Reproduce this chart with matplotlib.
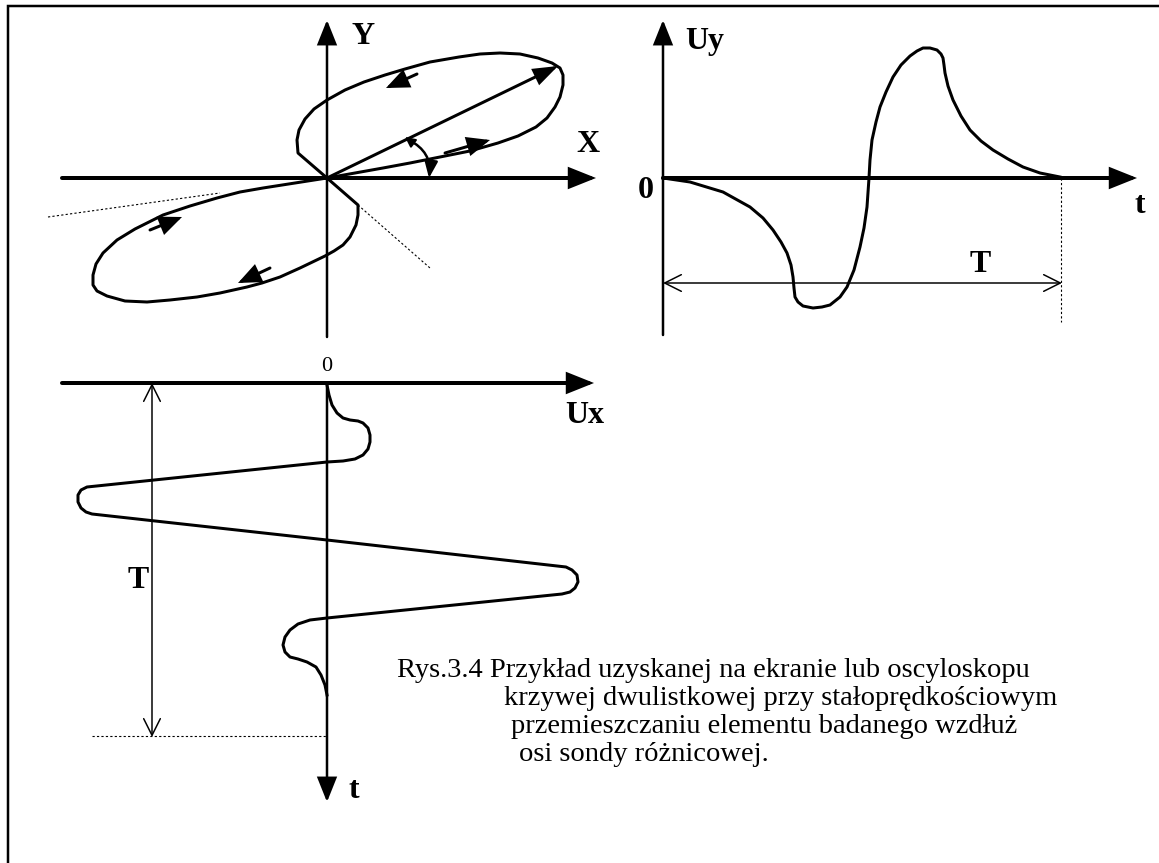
import matplotlib
matplotlib.use('Agg')
import matplotlib.pyplot as plt

# pixel coordinates (x right, y down)
origin_xy = (327, 178)

# Lissajous-like loops in the X-Y plane
loop_up_x = [327, 298, 297, 299, 305, 314, 327, 345, 364, 385, 405, 430, 459, 480, 500, 520, 538,
             552, 560, 563, 563, 560, 555, 547, 536, 518, 498, 470, 440, 410, 383, 355, 327]
loop_up_y = [178, 153, 140, 130, 119, 109, 100, 90, 82, 75, 69, 62, 57, 54, 53, 54, 58,
             63, 68, 75, 85, 97, 107, 118, 127, 136, 143, 151, 157, 163, 168, 173, 178]
loop_dn_x = [327, 358, 358, 356, 350, 343, 334, 325, 300, 280, 262, 247, 220, 197, 170, 147, 125,
             107, 97, 93, 93, 96, 103, 117, 135, 163, 190, 217, 240, 263, 295, 327]
loop_dn_y = [178, 205, 215, 225, 237, 245, 251, 256, 268, 277, 283, 287, 293, 297, 300, 302, 301,
             296, 291, 285, 275, 264, 253, 240, 229, 215, 206, 198, 192, 188, 183, 178]

# Uy(t) signal
uy_x = [663, 690, 723, 750, 763, 773, 781, 787, 791, 793, 794, 795, 798, 803, 813, 822, 830, 840,
        847, 854, 860, 864, 867, 869, 870, 872, 876, 880, 886, 893, 901, 910, 917, 923, 930, 937,
        941, 943, 944, 945, 948, 953, 961, 970, 981, 993, 1008, 1023, 1040, 1060]
uy_y = [178, 182, 192, 207, 218, 230, 242, 253, 265, 277, 288, 297, 302, 306, 308, 307, 305, 297,
        287, 270, 247, 228, 207, 178, 160, 140, 122, 107, 92, 77, 65, 56, 51, 48, 48, 50,
        54, 58, 65, 73, 86, 100, 116, 130, 141, 150, 159, 167, 173, 177]

# Ux(t) signal, time running downwards
ux_x = [327, 329, 332, 337, 343, 350, 358, 363, 368, 370, 370, 368, 363, 355, 343, 327, 87, 81,
        78, 78, 81, 86, 92, 327, 566, 572, 577, 578, 575, 570, 562, 327, 310, 298, 290, 285,
        283, 285, 290, 298, 307, 316, 321, 325, 327]
ux_y = [385, 395, 405, 413, 418, 420, 421, 423, 428, 435, 442, 449, 455, 459, 461, 462, 487, 490,
        495, 502, 508, 512, 514, 540, 567, 570, 575, 582, 588, 592, 594, 618, 620, 624, 630, 637,
        645, 652, 657, 659, 662, 667, 675, 685, 695]

# direction arrows on the loops: (tail, tip)
loop_arrows = [((417, 74), (386, 88)),
               ((445, 153), (490, 140)),
               ((150, 230), (182, 217)),
               ((270, 268), (238, 283))]

caption = ['Rys.3.4 Przykład uzyskanej na ekranie lub oscyloskopu',
           'krzywej dwulistkowej przy stałoprędkościowym',
           'przemieszczaniu elementu badanego wzdłuż',
           'osi sondy różnicowej.']
caption_x = [397, 504, 511, 519]
caption_y = [677, 705, 733, 761]

W, H = 1159, 863
fig = plt.figure(figsize=(W / 100, H / 100), dpi=100)
ax = fig.add_axes([0, 0, 1, 1])
ax.set_xlim(0, W)
ax.set_ylim(H, 0)
ax.axis('off')

def px(w):
    return w * 0.72

serif = ['Liberation Serif', 'DejaVu Serif']

def arrow(tail, tip, lw, hl, hw, style='-|>'):
    ax.annotate('', xy=tip, xytext=tail,
                arrowprops=dict(arrowstyle=f'{style},head_length={hl},head_width={hw}',
                                lw=px(lw), color='k', shrinkA=0, shrinkB=0,
                                mutation_scale=1, joinstyle='miter'))

# frame (left and top only)
ax.plot([8, 8, W], [H, 6, 6], color='k', lw=px(2.5), solid_joinstyle='miter')

# ---- X-Y plot ----
arrow((62, 178), (596, 178), 4, 15, 6)
arrow((327, 337), (327, 20), 2.5, 15, 6)
ax.plot(loop_up_x, loop_up_y, color='k', lw=px(3), solid_joinstyle='round')
ax.plot(loop_dn_x, loop_dn_y, color='k', lw=px(3), solid_joinstyle='round')
arrow(origin_xy, (558, 66), 3, 14, 5)
for tail, tip in loop_arrows:
    arrow(tail, tip, 3, 13, 5.5)
ax.annotate('', xy=(429, 178), xytext=(409, 140),
            arrowprops=dict(arrowstyle='-|>,head_length=10,head_width=4', lw=px(2.5),
                            color='k', shrinkA=0, shrinkB=0, mutation_scale=1,
                            connectionstyle='arc3,rad=-0.35'))
ax.annotate('', xy=(405, 137), xytext=(413, 143),
            arrowprops=dict(arrowstyle='-|>,head_length=6,head_width=3', lw=px(2),
                            color='k', shrinkA=0, shrinkB=0, mutation_scale=1))
ax.plot([48, 220], [217, 193], color='k', lw=0.8, ls=(0, (2, 2)))
ax.plot([358, 430], [205, 268], color='k', lw=0.8, ls=(0, (2, 2)))
ax.text(363, 37, 'Y', family=serif, weight='bold', fontsize=23, ha='center', va='center')
ax.text(588, 145, 'X', family=serif, weight='bold', fontsize=23, ha='center', va='center')

# ---- Uy(t) plot ----
arrow((663, 178), (1137, 178), 4, 15, 6)
arrow((663, 335), (663, 20), 2.5, 15, 6)
ax.plot(uy_x, uy_y, color='k', lw=px(3), solid_joinstyle='round')
arrow((663, 283), (1062, 283), 1.5, 12, 6, style='<->')
ax.plot([1061, 1061], [178, 322], color='k', lw=0.8, ls=(0, (2, 2)))
ax.text(705, 42, 'Uy', family=serif, weight='bold', fontsize=23, ha='center', va='center')
ax.text(646, 190, '0', family=serif, weight='bold', fontsize=23, ha='center', va='center')
ax.text(1140, 205, 't', family=serif, weight='bold', fontsize=23, ha='center', va='center')
ax.text(980, 264, 'T', family=serif, weight='bold', fontsize=23, ha='center', va='center')

# ---- Ux(t) plot ----
arrow((62, 383), (594, 383), 4, 15, 6)
arrow((327, 383), (327, 802), 2.5, 15, 6)
ax.plot(ux_x, ux_y, color='k', lw=px(3), solid_joinstyle='round')
arrow((152, 383), (152, 737), 1.5, 12, 6, style='<->')
ax.plot([92, 327], [736, 736], color='k', lw=0.8, ls=(0, (2, 2)))
ax.text(327, 366, '0', family=serif, fontsize=16, ha='center', va='center')
ax.text(585, 415, 'Ux', family=serif, weight='bold', fontsize=23, ha='center', va='center')
ax.text(354, 790, 't', family=serif, weight='bold', fontsize=23, ha='center', va='center')
ax.text(138, 580, 'T', family=serif, weight='bold', fontsize=23, ha='center', va='center')

for s, x, y in zip(caption, caption_x, caption_y):
    ax.text(x, y, s, family=serif, fontsize=20.5, ha='left', va='baseline')

fig.savefig('out.png', dpi=100)
